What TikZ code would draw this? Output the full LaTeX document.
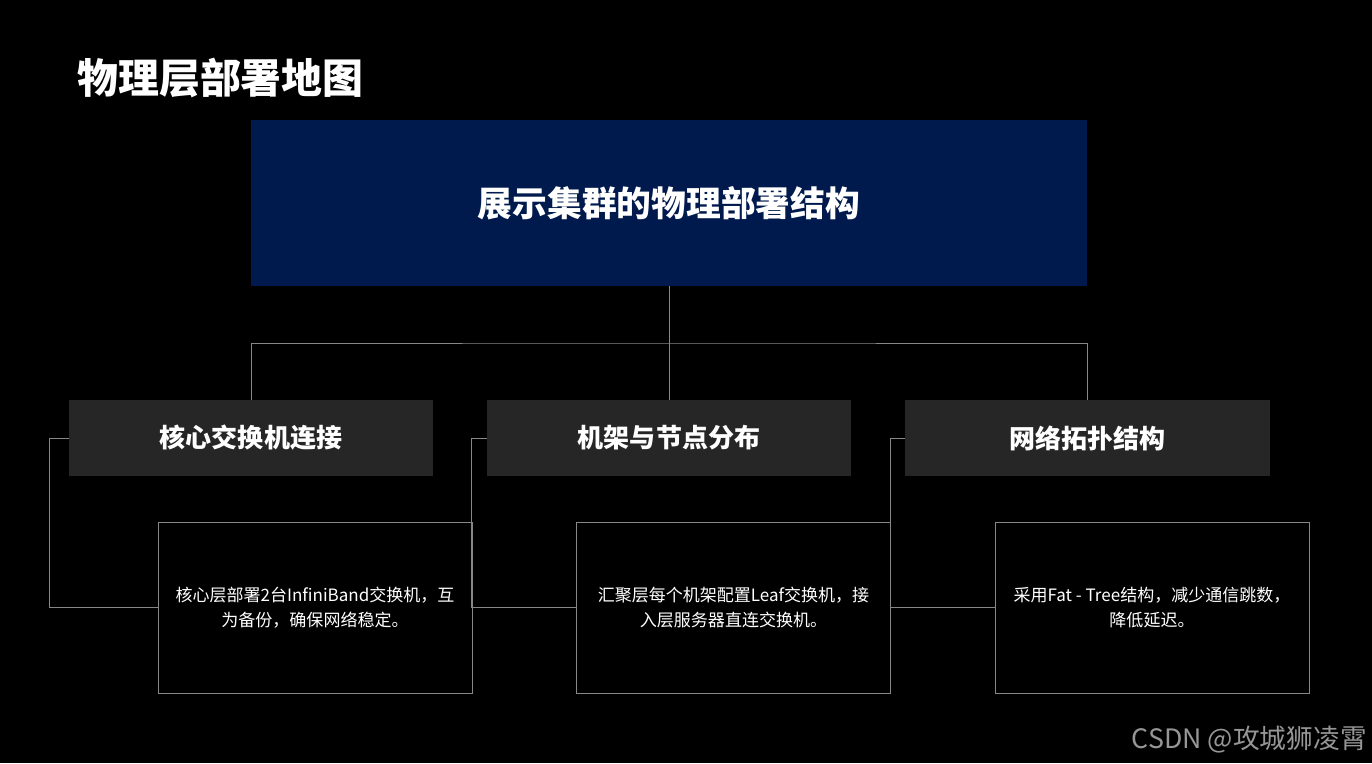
\documentclass[tikz,border=0pt]{standalone}
\usepackage{fontspec}
\setmainfont{Noto Sans CJK SC}
\definecolor{navy}{RGB}{0,26,77}
\definecolor{hdr}{RGB}{38,38,38}
\definecolor{lin}{RGB}{135,135,135}
\definecolor{wm}{RGB}{150,150,150}
\begin{document}
\begin{tikzpicture}[x=0.025cm,y=-0.025cm,
  topbox/.style={fill=navy,draw=none,inner sep=0,minimum width=20.9cm,minimum height=4.15cm,text=white,font=\fontsize{24.7pt}{30pt}\selectfont\bfseries},
  hdrbox/.style={fill=hdr,draw=none,inner sep=0,minimum width=9.1cm,minimum height=1.9cm,text=white,font=\fontsize{18.5pt}{22pt}\selectfont\bfseries},
  detbox/.style={fill=black,draw=lin,line width=0.6pt,inner sep=0,minimum width=7.85cm,minimum height=4.275cm,text=white,align=center,font=\fontsize{12.1pt}{17.8pt}\selectfont},
  conn/.style={draw=lin,line width=0.6pt}]
\fill[black] (0,0) rectangle (1372,763);
\useasboundingbox (0,0) rectangle (1372,763);
\node[anchor=west,text=white,font=\fontsize{29.1pt}{34pt}\selectfont\bfseries,inner sep=0] (title) at (77,78) {物理层部署地图};
\node[topbox] (top) at (669,203) {展示集群的物理部署结构};
\node[hdrbox] (h1) at (251,438) {核心交换机连接};
\node[hdrbox] (h2) at (669,438) {机架与节点分布};
\node[hdrbox] (h3) at (1087.5,438) {网络拓扑结构};
\node[detbox] (d1) at (315,607.5) {核心层部署2台InfiniBand交换机，互\\为备份，确保网络稳定。};
\node[detbox] (d2) at (733.5,607.5) {汇聚层每个机架配置Leaf交换机，接\\入层服务器直连交换机。};
\node[detbox] (d3) at (1152,607.5) {采用Fat - Tree结构，减少通信跳数，\\降低延迟。};
\coordinate (bus) at (669,343);
\draw[conn] (top.south) -- (bus);
\draw[conn] (h1.north) |- (bus) -| (h3.north);
\draw[conn] (bus) -- (h2.north);
\draw[conn] (h1.west) -- ++(-19,0) |- (d1.west);
\draw[conn] (h2.west) -- ++(-15,0) |- (d2.west);
\draw[conn] (h3.west) -- ++(-15,0) |- (d3.west);
\node[anchor=east,text=wm,font=\fontsize{19pt}{22pt}\selectfont,inner sep=0] (wmark) at (1367,740) {CSDN @攻城狮凌霄};
\end{tikzpicture}
\end{document}
